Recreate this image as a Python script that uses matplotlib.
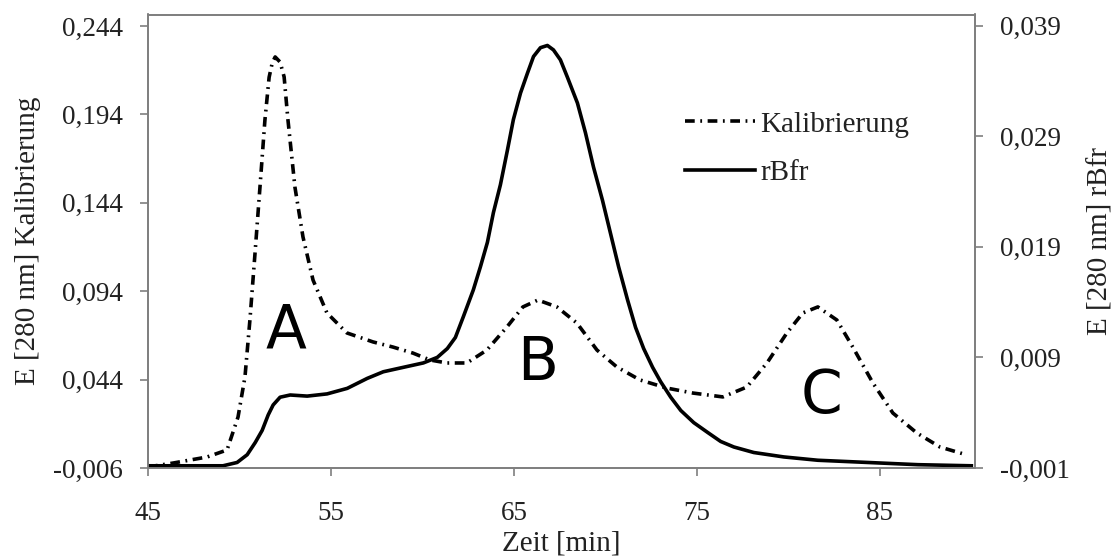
import matplotlib
matplotlib.use("Agg")
import matplotlib.pyplot as plt
from matplotlib.ticker import FixedLocator, FuncFormatter

plt.rcParams['font.family'] = ['Liberation Serif', 'DejaVu Serif']
plt.rcParams['lines.scale_dashes'] = False

# Kalibrierung (left axis)
kal_t = [45.0, 46.37, 48.22, 49.32, 49.92, 50.30, 50.57, 50.85, 51.12, 51.39,
         51.62, 51.79, 51.95, 52.22, 52.44, 52.65, 53.03, 53.47, 54.02, 54.78,
         55.87, 57.30, 58.39, 59.48, 60.41, 61.34, 62.43, 63.52, 64.62, 65.49,
         66.31, 67.35, 68.44, 69.54, 70.63, 71.89, 73.36, 74.78, 76.42, 77.73,
         78.83, 79.92, 80.79, 81.61, 82.65, 83.52, 84.62, 85.71, 87.02, 88.28,
         89.75]
kal_v = [-0.0054, -0.0032, 0.0002, 0.0042, 0.0228, 0.0455, 0.0777, 0.1156, 0.1529, 0.1908,
         0.2150, 0.2231, 0.2265, 0.2236, 0.2152, 0.1908, 0.1529, 0.1247, 0.1003, 0.0817,
         0.0704, 0.0653, 0.0624, 0.0590, 0.0551, 0.0534, 0.0534, 0.0607, 0.0738, 0.0851,
         0.0890, 0.0851, 0.0760, 0.0607, 0.0511, 0.0438, 0.0392, 0.0364, 0.0342, 0.0398,
         0.0534, 0.0704, 0.0817, 0.0851, 0.0777, 0.0624, 0.0421, 0.0251, 0.0138, 0.0059,
         0.0014]

# rBfr (right axis)
rbf_t = [45.0, 47.30, 49.10, 49.87, 50.42, 50.86, 51.24, 51.57, 51.84, 52.22,
         52.77, 53.70, 54.79, 55.89, 56.98, 57.86, 58.95, 60.05, 60.81, 61.36,
         61.80, 62.24, 62.78, 63.17, 63.55, 63.88, 64.26, 64.64, 64.97, 65.36,
         65.74, 66.07, 66.45, 66.83, 67.16, 67.54, 67.93, 68.47, 68.91, 69.35,
         69.84, 70.28, 70.72, 71.21, 71.65, 72.09, 72.58, 73.02, 73.57, 74.12,
         74.83, 75.60, 76.30, 77.02, 78.11, 79.75, 81.61, 84.34, 87.08, 90.0]
rbf_v = [-0.0008, -0.0008, -0.0008, -0.0005, 0.0002, 0.0013, 0.0024, 0.0038, 0.0047, 0.0054,
         0.0056, 0.0055, 0.0057, 0.0062, 0.0071, 0.0077, 0.0081, 0.0085, 0.0090, 0.0098,
         0.0108, 0.0127, 0.0151, 0.0172, 0.0194, 0.0221, 0.0246, 0.0277, 0.0305, 0.0329,
         0.0347, 0.0362, 0.0370, 0.0372, 0.0368, 0.0359, 0.0343, 0.0320, 0.0293, 0.0262,
         0.0232, 0.0202, 0.0172, 0.0142, 0.0117, 0.0098, 0.0081, 0.0068, 0.0054, 0.0042,
         0.0031, 0.0022, 0.0014, 0.0009, 0.0004, 0.0000, -0.0003, -0.0005, -0.0007, -0.0008]

x_ticks = [45, 55, 65, 75, 85]
left_ticks = [-0.006, 0.044, 0.094, 0.144, 0.194, 0.244]
right_ticks = [-0.001, 0.009, 0.019, 0.029, 0.039]

peak_labels = ['A', 'B', 'C']
peak_t = [52.54, 66.28, 81.83]
peak_v = [0.0619, 0.0438, 0.0251]

fig = plt.figure(figsize=(11.17, 5.60), dpi=100)
W, H = 1117, 560
ax = fig.add_axes([148 / W, (H - 468) / H, (975 - 148) / W, (468 - 14.5) / H])
ax2 = ax.twinx()

l1, = ax.plot(kal_t, kal_v, color='black', lw=2.6, dashes=(7, 4, 1.3, 4),
              label='Kalibrierung')
l2, = ax2.plot(rbf_t, rbf_v, color='black', lw=2.6, label='rBfr')

ax.set_xlim(45, 90.2)
ax.set_ylim(-0.006, 0.2505)
ax2.set_ylim(-0.001, 0.04)

def comma(v, pos):
    return f"{v:.3f}".replace('.', ',')

ax.xaxis.set_major_locator(FixedLocator(x_ticks))
ax.yaxis.set_major_locator(FixedLocator(left_ticks))
ax2.yaxis.set_major_locator(FixedLocator(right_ticks))
ax.yaxis.set_major_formatter(FuncFormatter(comma))
ax2.yaxis.set_major_formatter(FuncFormatter(comma))

spine_c = '#7f7f7f'
for a in (ax, ax2):
    for s in a.spines.values():
        s.set_color(spine_c)
        s.set_linewidth(1.3)
ax.tick_params(axis='both', direction='out', length=6, width=1.2, color=spine_c,
               labelsize=19.5, labelcolor='#222222')
ax.tick_params(axis='x', pad=18)
ax.tick_params(axis='y', pad=12)
ax2.tick_params(axis='y', direction='out', length=6, width=1.2, color=spine_c,
                labelsize=19.5, labelcolor='#222222', pad=12)

ax.set_xlabel('Zeit [min]', fontsize=21, labelpad=3, color='#222222')
ax.set_ylabel('E [280 nm] Kalibrierung', fontsize=21, labelpad=9, color='#222222')
ax2.set_ylabel('E [280 nm] rBfr', fontsize=21, labelpad=13, color='#222222')

for lab, t, v in zip(peak_labels, peak_t, peak_v):
    ax.text(t, v, lab, fontsize=43, family='DejaVu Sans', ha='center', va='baseline',
            color='black')

leg = ax2.legend(handles=[l1, l2], loc='upper left', bbox_to_anchor=(0.649, 0.787),
                 frameon=False, fontsize=21, handlelength=2.4, handletextpad=0.2,
                 labelspacing=0.75, borderpad=0, borderaxespad=0)
for t in leg.get_texts():
    t.set_color('#222222')

fig.savefig('out.png', dpi=100)
